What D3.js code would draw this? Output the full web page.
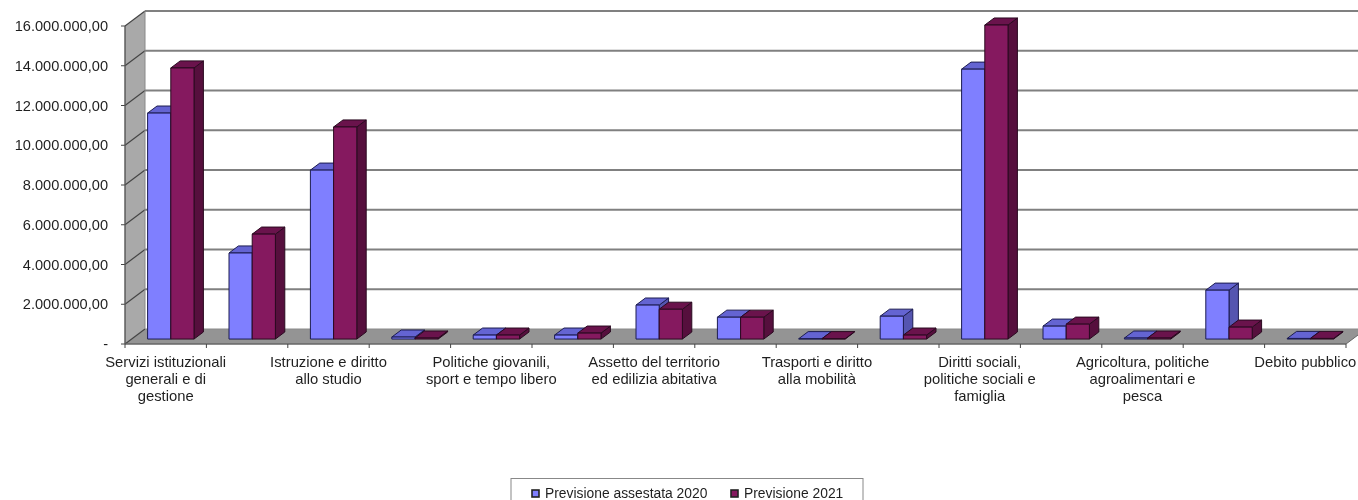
<!DOCTYPE html>
<html><head><meta charset="utf-8">
<script src="https://cdn.jsdelivr.net/npm/d3@7"></script>
<style>html,body{margin:0;padding:0;background:#fff;overflow:hidden}svg{display:block;filter:blur(0.35px)}text{font-family:"Liberation Sans",Arial,sans-serif;fill:#1f1f1f}</style>
</head><body><svg id="c" width="1358" height="500"></svg>
<script>
const labelLines=[["Servizi istituzionali","generali e di","gestione"],[],["Istruzione e diritto","allo studio"],[],["Politiche giovanili,","sport e tempo libero"],[],["Assetto del territorio","ed edilizia abitativa"],[],["Trasporti e diritto","alla mobilità"],[],["Diritti sociali,","politiche sociali e","famiglia"],[],["Agricoltura, politiche","agroalimentari e","pesca"],[],["Debito pubblico"]];
const series2020=[11370000,4330000,8500000,100000,200000,200000,1710000,1100000,20000,1150000,13580000,650000,50000,2460000,30000];
const series2021=[13640000,5280000,10670000,50000,200000,300000,1500000,1100000,20000,200000,15800000,750000,50000,600000,30000];
const seriesNames=["Previsione assestata 2020","Previsione 2021"];
const yTicks=[0,2e6,4e6,6e6,8e6,1e7,1.2e7,1.4e7,1.6e7];
const yLabels=["-","2.000.000,00","4.000.000,00","6.000.000,00","8.000.000,00","10.000.000,00","12.000.000,00","14.000.000,00","16.000.000,00"];
const palette=[{f:"#7f7fff",t:"#6464d2",s:"#5555b0"},{f:"#85195f",t:"#6a134c",s:"#560f3d"}];

const svg=d3.select("#c");
const x=d3.scaleBand().domain(d3.range(15)).range([125,1346]);
const y=d3.scaleLinear().domain([0,1.6e7]).range([344,26]);
const DX=20,DY=-15;
const P=(px,v,z)=>[px+DX*z,y(v)+DY*z];
const poly=(pts,fill,stroke,sw)=>svg.append("polygon").attr("points",pts.map(p=>p.join(",")).join(" ")).attr("fill",fill).attr("stroke",stroke||"none").attr("stroke-width",sw||0).attr("stroke-linejoin","round");
const L=x.range()[0],R=x.range()[1];
poly([P(L,0,0),P(L,0,1),P(L,1.6e7,1),P(L,1.6e7,0)],"#a9a9a9");
poly([P(L,0,0),P(L,0,1),P(R,0,1),P(R,0,0)],"#949494");
const G="#808080";
yTicks.forEach(t=>{
  if(t>0) svg.append("line").attr("x1",P(L,t,1)[0]).attr("y1",P(L,t,1)[1]).attr("x2",1358).attr("y2",P(L,t,1)[1]).attr("stroke",G).attr("stroke-width",2);
  svg.append("line").attr("x1",P(L,t,0)[0]).attr("y1",P(L,t,0)[1]).attr("x2",P(L,t,1)[0]).attr("y2",P(L,t,1)[1]).attr("stroke","#444").attr("stroke-width",1.2);
  svg.append("line").attr("x1",L-4).attr("y1",y(t)).attr("x2",L).attr("y2",y(t)).attr("stroke","#444");
});
svg.append("line").attr("x1",P(L,0,1)[0]).attr("y1",P(L,0,1)[1]).attr("x2",P(R,0,1)[0]).attr("y2",P(R,0,1)[1]).attr("stroke","#8a8a8a");
svg.append("line").attr("x1",L).attr("y1",y(0)).attr("x2",R).attr("y2",y(0)).attr("stroke","#666").attr("stroke-width",1.4);
svg.append("line").attr("x1",R).attr("y1",y(0)).attr("x2",P(R,0,1)[0]).attr("y2",P(R,0,1)[1]).attr("stroke","#666");
svg.append("line").attr("x1",L).attr("y1",y(1.6e7)).attr("x2",L).attr("y2",y(0)).attr("stroke","#555").attr("stroke-width",1.4);
svg.append("line").attr("x1",P(L,0,1)[0]).attr("y1",y(1.6e7)+DY).attr("x2",P(L,0,1)[0]).attr("y2",y(0)+DY).attr("stroke","#888");
d3.range(16).forEach(i=>{const px=L+i*x.bandwidth();
  svg.append("line").attr("x1",px).attr("x2",px).attr("y1",y(0)).attr("y2",y(0)+4).attr("stroke","#444");});
const barW=23.2,z0=0.33,z1=0.8;
function bar(cx,v,c,st){
  const f0=P(cx,0,z0),f1=P(cx+barW,0,z0),f2=P(cx+barW,v,z0),f3=P(cx,v,z0);
  const b1=P(cx+barW,0,z1),b2=P(cx+barW,v,z1),b3=P(cx,v,z1);
  poly([f1,b1,b2,f2],c.s,st,1);
  poly([f3,f2,b2,b3],c.t,st,1);
  poly([f0,f1,f2,f3],c.f,st,1);
}
series2020.forEach((v,i)=>{
  const px=x(i)+x.bandwidth()/2-barW-1.5;
  bar(px,v,palette[0],"#1c1c50");
  bar(px+barW,series2021[i],palette[1],"#2a0a20");
});
yTicks.forEach((t,i)=>svg.append("text").attr("x",108).attr("y",y(t)+5).attr("text-anchor","end").attr("font-size",14.6).text(yLabels[i]));
labelLines.forEach((ls,i)=>{
  if(!ls.length) return;
  const cx=L+(i+0.5)*x.bandwidth();
  const t=svg.append("text").attr("text-anchor","middle").attr("font-size",14.8);
  ls.forEach((s,k)=>t.append("tspan").attr("x",cx).attr("y",367+k*17).text(s));
});
svg.append("rect").attr("x",511).attr("y",478.5).attr("width",352).attr("height",30).attr("fill","#fff").attr("stroke","#888");
[[532,seriesNames[0],0],[731,seriesNames[1],1]].forEach(([lx,s,i])=>{
  svg.append("rect").attr("x",lx).attr("y",490).attr("width",7).attr("height",7).attr("fill",palette[i].f).attr("stroke","#222").attr("stroke-width",1.6);
  svg.append("text").attr("x",lx+13).attr("y",498).attr("font-size",13.85).text(s);
});
</script></body></html>
